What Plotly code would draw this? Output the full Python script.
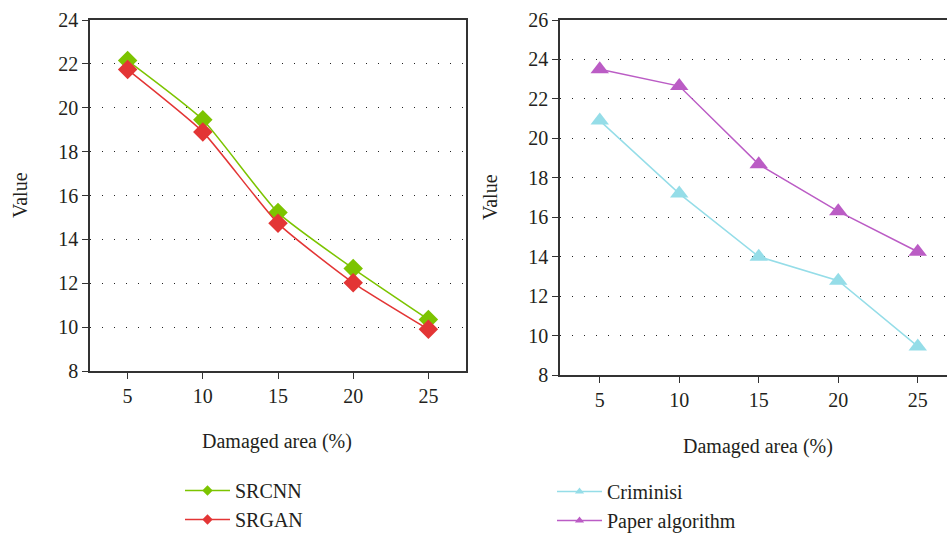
import plotly.graph_objects as go

x_area = [5, 10, 15, 20, 25]
srcnn = [22.15, 19.45, 15.22, 12.67, 10.35]
srgan = [21.74, 18.9, 14.73, 12.02, 9.9]
criminisi = [20.9, 17.2, 14.0, 12.78, 9.45]
paper_alg = [23.5, 22.65, 18.68, 16.3, 14.25]

left_yticks = [8, 10, 12, 14, 16, 18, 20, 22, 24]
right_yticks = [8, 10, 12, 14, 16, 18, 20, 22, 24, 26]

FONT = "Liberation Serif"
AX = "#333333"
TXT = "#231f20"
W, H = 947, 535

series = [
    ("SRCNN", srcnn, "#7cc400", "diamond", 15, "x", "y", "legend", "spline"),
    ("SRGAN", srgan, "#e33535", "diamond", 15, "x", "y", "legend", "spline"),
    ("Criminisi", criminisi, "#95dde8", "triangle-up", 16, "x2", "y2", "legend2", "linear"),
    ("Paper algorithm", paper_alg, "#bb5cc5", "triangle-up", 16, "x2", "y2", "legend2", "linear"),
]

fig = go.Figure()
for name, vals, col, sym, sz, xa, ya, lg, shp in series:
    line = dict(color=col, width=1.5, shape=shp)
    if shp == "spline":
        line["smoothing"] = 0.5
    fig.add_trace(go.Scatter(x=x_area, y=vals, name=name, mode="lines+markers",
                             line=line, marker=dict(symbol=sym, size=sz, color=col),
                             xaxis=xa, yaxis=ya, showlegend=False))
    # legend entry with small marker as in the reference
    fig.add_trace(go.Scatter(x=[None], y=[None], name=name, mode="lines+markers",
                             line=dict(color=col, width=1.5),
                             marker=dict(symbol=sym, size=8, color=col),
                             xaxis=xa, yaxis=ya, legend=lg, showlegend=True))

axis_common = dict(showline=True, linecolor=AX, linewidth=1.5, ticks="outside",
                   ticklen=6, tickwidth=1.2, tickcolor=AX,
                   tickfont=dict(family=FONT, size=20, color=TXT), zeroline=False)

legend_common = dict(xanchor="left", yanchor="top", itemwidth=45,
                     font=dict(family=FONT, size=20, color=TXT), bgcolor="rgba(0,0,0,0)",
                     tracegroupgap=0)

fig.update_layout(
    width=W, height=H, margin=dict(l=0, r=0, t=0, b=0, autoexpand=False),
    paper_bgcolor="white", plot_bgcolor="white",
    font=dict(family=FONT, size=20, color=TXT),
    xaxis=dict(domain=[90 / W, 466 / W], range=[2.5, 27.5], tickvals=x_area,
               showgrid=False, mirror=True, anchor="y", **axis_common),
    yaxis=dict(domain=[1 - 371 / H, 1 - 20 / H], range=[8, 24], tickvals=left_yticks,
               showgrid=True, gridcolor="#222", griddash="1px,11px", gridwidth=1.3,
               mirror=True, anchor="x", **axis_common),
    xaxis2=dict(domain=[560 / W, 1.0], range=[2.5, 2.5 + (W - 560) / 15.9], tickvals=x_area,
                showgrid=False, mirror=True, anchor="y2", **axis_common),
    yaxis2=dict(domain=[1 - 375 / H, 1 - 20 / H], range=[8, 26], tickvals=right_yticks,
                showgrid=True, gridcolor="#222", griddash="1px,11px", gridwidth=1.3,
                mirror=False, anchor="x2", **axis_common),
    legend=dict(x=180 / W, y=1 - 471 / H, **legend_common),
    legend2=dict(x=552 / W, y=1 - 472 / H, **legend_common),
    showlegend=True,
)

annots = [
    dict(text="Value", x=20 / W, y=1 - 195 / H, textangle=-90),
    dict(text="Value", x=490 / W, y=1 - 197 / H, textangle=-90),
    dict(text="Damaged area (%)", x=277 / W, y=1 - 441 / H, textangle=0),
    dict(text="Damaged area (%)", x=758 / W, y=1 - 446 / H, textangle=0),
]
for a in annots:
    fig.add_annotation(text=a["text"], x=a["x"], y=a["y"], xref="paper", yref="paper",
                       showarrow=False, textangle=a["textangle"],
                       xanchor="center", yanchor="middle",
                       font=dict(family=FONT, size=20, color=TXT))

fig.write_html("out.html")
